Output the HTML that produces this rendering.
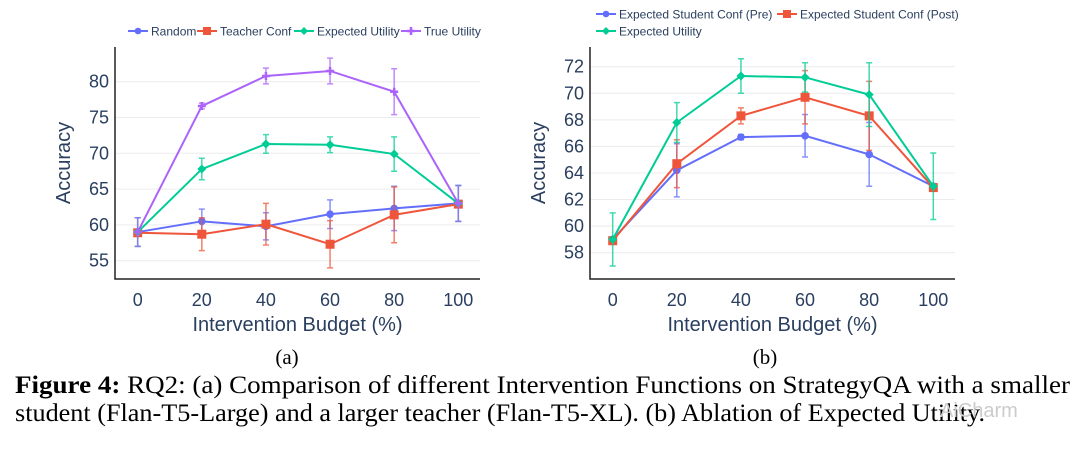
<!DOCTYPE html>
<html><head><meta charset="utf-8"><style>
body{margin:0;background:#fff;}
svg{display:block;font-family:"Liberation Sans",sans-serif;}
</style></head><body>
<svg id="fig" width="1080" height="453" viewBox="0 0 1080 453">
<g id="chartA"></g>
<g id="chartB"></g>
<text x="287" y="364" font-family="Liberation Serif,serif" font-size="21" text-anchor="middle" fill="#000">(a)</text>
<text x="765" y="364" font-family="Liberation Serif,serif" font-size="21" text-anchor="middle" fill="#000">(b)</text>
<text x="15" y="393" font-family="Liberation Serif,serif" font-size="25" fill="#000" textLength="1055" lengthAdjust="spacingAndGlyphs"><tspan font-weight="bold">Figure 4:</tspan> RQ2: (a) Comparison of different Intervention Functions on StrategyQA with a smaller</text>
<text x="15" y="421" font-family="Liberation Serif,serif" font-size="25" fill="#000" textLength="970" lengthAdjust="spacingAndGlyphs">student (Flan-T5-Large) and a larger teacher (Flan-T5-XL). (b) Ablation of Expected Utility.</text>
<text x="940" y="417" font-size="20" fill="#ccc">AiCharm</text>
</svg>
<script>
const budgets=[0,20,40,60,80,100];
const aRandom=[59,60.5,59.8,61.5,62.3,63];
const aRandomErr=[2,1.7,1.9,2,3.1,2.5];
const aTeacher=[58.9,58.7,60.1,57.3,61.4,62.9];
const aTeacherErr=[0.2,2.3,2.9,3.3,3.9,0.3];
const aExpected=[59,67.8,71.3,71.2,69.9,63];
const aExpectedErr=[2,1.5,1.3,1.1,2.4,2.5];
const aTrue=[59,76.6,80.8,81.5,78.6,63];
const aTrueErr=[2,0.4,1.1,1.8,3.2,2.5];
const aYTicks=[55,60,65,70,75,80];
const bPre=[59,64.2,66.7,66.8,65.4,63];
const bPreErr=[0.2,2,0.2,1.6,2.4,0.2];
const bPost=[58.9,64.7,68.3,69.7,68.3,62.9];
const bPostErr=[0.2,1.8,0.6,2,2.6,0.2];
const bExpected=[59,67.8,71.3,71.2,69.9,63];
const bExpectedErr=[2,1.5,1.3,1.1,2.4,2.5];
const bYTicks=[58,60,62,64,66,68,70,72];
const xTicks=[0,20,40,60,80,100];

const NS='http://www.w3.org/2000/svg';
function mk(parent,tag,attrs){const e=document.createElementNS(NS,tag);for(const k in attrs)e.setAttribute(k,attrs[k]);parent.appendChild(e);return e;}

function drawChart(g,cfg){
  const X=v=>cfg.x0+(v-0)*(cfg.x100-cfg.x0)/100;
  const Y=v=>cfg.yA+(v-cfg.vA)*(cfg.yB-cfg.yA)/(cfg.vB-cfg.vA);
  cfg.yTicks.forEach(t=>{
    const l=mk(g,'line',{x1:cfg.axisX+1,x2:cfg.right,y1:Y(t),y2:Y(t),stroke:'#ececec','stroke-width':1});
    
    
    const tx=mk(g,'text',{x:cfg.axisX-6,y:Y(t)+6,'font-size':18,'text-anchor':'end',fill:'#2a3f5f'});
    tx.textContent=t;
    
    
  });
  xTicks.forEach(t=>{
    const tx=mk(g,'text',{x:X(t),y:cfg.bottom+27,'font-size':18,'text-anchor':'middle',fill:'#2a3f5f'});
    tx.textContent=t;
    
    
  });
  const ax=mk(g,'path',{d:`M${cfg.axisX},${cfg.top} V${cfg.bottom} H${cfg.right}`,fill:'none',stroke:'#222','stroke-width':1.5});
  
  
  const xt=mk(g,'text',{x:(cfg.axisX+cfg.right)/2,y:cfg.bottom+52,'font-size':20,'text-anchor':'middle',fill:'#2a3f5f'});
  xt.textContent='Intervention Budget (%)';
  
  
  const cy=(cfg.top+cfg.bottom)/2;
  const yt=mk(g,'text',{x:cfg.axisX-45,y:cy,'font-size':20,'text-anchor':'middle',fill:'#2a3f5f',transform:`rotate(-90 ${cfg.axisX-45} ${cy})`});
  yt.textContent='Accuracy';
  
  
  cfg.series.forEach(s=>{
    const sg=mk(g,'g',{});
    
    
    s.vals.forEach((v,i)=>{
      const x=X(budgets[i]),e=s.err[i];
      const eb=mk(sg,'path',{d:`M${x},${Y(v-e)} V${Y(v+e)} M${x-3},${Y(v-e)} H${x+3} M${x-3},${Y(v+e)} H${x+3}`,stroke:s.color,'stroke-width':1.5,fill:'none',opacity:0.75});
      
      
    });
    const pl=mk(sg,'polyline',{points:s.vals.map((v,i)=>X(budgets[i])+','+Y(v)).join(' '),fill:'none',stroke:s.color,'stroke-width':2});
    
    
    s.vals.forEach((v,i)=>{
      const x=X(budgets[i]),y=Y(v);let m;
      if(s.marker==='square')m=mk(sg,'rect',{x:x-4.5,y:y-4.5,width:9,height:9,fill:s.color});
      else if(s.marker==='diamond')m=mk(sg,'path',{d:`M${x},${y-4.5}L${x+4.5},${y}L${x},${y+4.5}L${x-4.5},${y}Z`,fill:s.color});
      else if(s.marker==='cross')m=mk(sg,'path',{d:`M${x-4},${y}H${x+4}M${x},${y-4}V${y+4}`,stroke:s.color,'stroke-width':2.5});
      else m=mk(sg,'circle',{cx:x,cy:y,r:3.8,fill:s.color});
      
      
    });
  });
  cfg.legend.forEach(it=>{
    const s=cfg.series[it.i];
    const lg=mk(g,'g',{});
    
    
    mk(lg,'line',{x1:it.x,x2:it.x+20,y1:it.y,y2:it.y,stroke:s.color,'stroke-width':2});
    const x=it.x+10,y=it.y;
    if(s.marker==='square')mk(lg,'rect',{x:x-4,y:y-4,width:8,height:8,fill:s.color});
    else if(s.marker==='cross')mk(lg,'path',{d:`M${x-4},${y}H${x+4}M${x},${y-4}V${y+4}`,stroke:s.color,'stroke-width':2.5});
    else if(s.marker==='diamond')mk(lg,'path',{d:`M${x},${y-4}L${x+4},${y}L${x},${y+4}L${x-4},${y}Z`,fill:s.color});
    else mk(lg,'circle',{cx:x,cy:y,r:3.3,fill:s.color});
    const t=mk(lg,'text',{x:it.x+23,y:it.y+4.5,'font-size':12,fill:'#2a3f5f'});
    t.textContent=s.name;
  });
}

drawChart(document.getElementById('chartA'),{
  x0:137.7,x100:458.3,yA:81.7,vA:80,yB:260.7,vB:55,axisX:115,top:47,bottom:279,right:480,yTicks:aYTicks,
  series:[
    {key:'random',name:'Random',vals:aRandom,err:aRandomErr,color:'#636efa',marker:'circle'},
    {key:'teacher-conf',name:'Teacher Conf',vals:aTeacher,err:aTeacherErr,color:'#ef553b',marker:'square'},
    {key:'expected-utility',name:'Expected Utility',vals:aExpected,err:aExpectedErr,color:'#00cc96',marker:'diamond'},
    {key:'true-utility',name:'True Utility',vals:aTrue,err:aTrueErr,color:'#ab63fa',marker:'cross'}],
  legend:[{i:0,x:128,y:31},{i:1,x:197,y:31},{i:2,x:294,y:31},{i:3,x:401,y:31}]
});
drawChart(document.getElementById('chartB'),{
  x0:612.7,x100:933.3,yA:66.7,vA:72,yB:252.7,vB:58,axisX:590,top:47,bottom:279,right:955,yTicks:bYTicks,
  series:[
    {key:'pre',name:'Expected Student Conf (Pre)',vals:bPre,err:bPreErr,color:'#636efa',marker:'circle'},
    {key:'post',name:'Expected Student Conf (Post)',vals:bPost,err:bPostErr,color:'#ef553b',marker:'square'},
    {key:'expected-utility',name:'Expected Utility',vals:bExpected,err:bExpectedErr,color:'#00cc96',marker:'diamond'}],
  legend:[{i:0,x:596,y:14},{i:1,x:777,y:14},{i:2,x:596,y:31}]
});
</script>
</body></html>
